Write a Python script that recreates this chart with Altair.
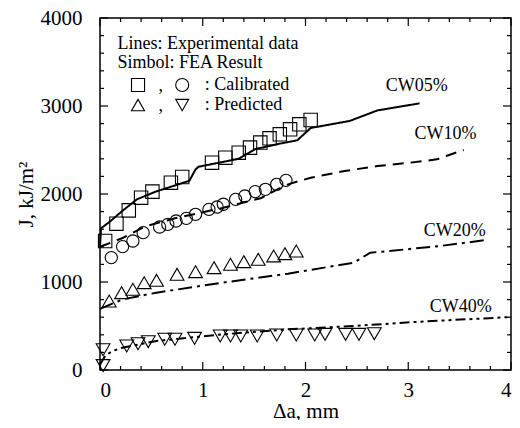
import altair as alt
import pandas as pd

# ---- experimental curves (lines) ----
cw05_x = [0.0, 0.01, 0.10, 0.22, 0.36, 0.55, 0.87, 0.93, 0.96, 1.35, 1.51, 1.74, 1.92, 2.05, 2.43, 2.70, 3.11]
cw05_j = [1400, 1610, 1690, 1810, 1940, 2030, 2150, 2280, 2310, 2400, 2510, 2570, 2610, 2750, 2830, 2950, 3030]

cw10_x = [0.0, 0.22, 0.45, 0.74, 1.19, 1.57, 1.74, 1.83, 2.05, 2.38, 2.70, 3.02, 3.28, 3.37, 3.54]
cw10_j = [1400, 1500, 1636, 1727, 1841, 1955, 2060, 2110, 2185, 2261, 2318, 2356, 2394, 2432, 2500]

cw20_x = [0.0, 0.22, 0.55, 1.19, 1.83, 2.47, 2.63, 2.98, 3.31, 3.74]
cw20_j = [695, 803, 879, 992, 1095, 1220, 1333, 1371, 1409, 1474]

cw40_x = [0.0, 0.05, 0.12, 0.22, 0.55, 1.19, 1.83, 2.47, 3.11, 4.0]
cw40_j = [60, 160, 215, 254, 330, 405, 462, 500, 549, 602]

# ---- FEA results (symbols) ----
sq_x = [0.05, 0.16, 0.28, 0.40, 0.51, 0.69, 0.80, 1.09, 1.22, 1.35, 1.46, 1.56, 1.65, 1.75, 1.85, 1.94, 2.05]
sq_j = [1466, 1663, 1814, 1958, 2027, 2129, 2193, 2356, 2413, 2470, 2527, 2584, 2633, 2678, 2735, 2792, 2841]

ci_x = [0.11, 0.22, 0.32, 0.42, 0.58, 0.66, 0.74, 0.84, 0.93, 1.06, 1.14, 1.20, 1.32, 1.41, 1.51, 1.61, 1.72, 1.81]
ci_j = [1277, 1402, 1466, 1561, 1625, 1655, 1693, 1723, 1769, 1825, 1852, 1883, 1939, 1977, 2027, 2053, 2110, 2155]

tu_x = [0.09, 0.21, 0.32, 0.43, 0.55, 0.75, 0.93, 1.11, 1.27, 1.40, 1.54, 1.69, 1.80, 1.91]
tu_j = [784, 879, 917, 992, 1019, 1087, 1117, 1163, 1201, 1231, 1258, 1296, 1322, 1352]

td_x = [0.03, 0.03, 0.26, 0.37, 0.47, 0.63, 0.73, 0.92, 1.17, 1.27, 1.37, 1.53, 1.72, 1.91, 2.09, 2.19, 2.39, 2.52, 2.67]
td_j = [50, 230, 273, 299, 322, 349, 349, 360, 386, 386, 386, 386, 398, 398, 398, 405, 405, 405, 413]

# ---- text annotations ----
lab_text = ["CW05%", "CW10%", "CW20%", "CW40%"]
lab_x = [2.78, 3.06, 3.15, 3.21]
lab_j = [3227, 2682, 1580, 716]

leg_text = ["Lines: Experimental data", "Simbol: FEA Result", ",", ": Calibrated", ",", ": Predicted"]
leg_x = [0.17, 0.17, 0.57, 1.02, 0.57, 1.02]
leg_j = [3705, 3489, 3225, 3239, 2997, 3011]

leg_sym_shape = ["square", "circle", "triangle-up", "triangle-down"]
leg_sym_x = [0.37, 0.80, 0.37, 0.80]
leg_sym_j = [3239, 3239, 3011, 3011]

# ---- axis ticks ----
x_major = [0, 1, 2, 3, 4]
x_minor = [0.2, 0.4, 0.6, 0.8, 1.2, 1.4, 1.6, 1.8, 2.2, 2.4, 2.6, 2.8, 3.2, 3.4, 3.6, 3.8]
y_major = [0, 1000, 2000, 3000, 4000]
y_minor = [200, 400, 600, 800, 1200, 1400, 1600, 1800, 2200, 2400, 2600, 2800, 3200, 3400, 3600, 3800]
X_MIN, X_MAX = 0, 4
Y_MIN, Y_MAX = 0, 4000

FONT = "Liberation Serif"
W, H = 411, 352
MAJOR_PX, MINOR_PX = 8, 4

xs = alt.Scale(domain=[X_MIN, X_MAX], nice=False, zero=False)
ys = alt.Scale(domain=[Y_MIN, Y_MAX], nice=False, zero=False)

def df(x, j):
    return pd.DataFrame({"x": x, "j": j})

label_x_axis = alt.Axis(orient="bottom", values=x_major, ticks=False, tickSize=0, domain=False, grid=False,
                        labelPadding=9, labelOverlap=False, title="Δa, mm", titlePadding=0, format="d")
label_y_axis = alt.Axis(orient="left", values=y_major, ticks=False, tickSize=0, domain=False, grid=False,
                        labelPadding=18, labelOverlap=False, title="J, kJ/m²", titlePadding=4, format="d")

def enc_x(axis=None):
    return alt.X("x:Q", scale=xs, axis=axis)

def enc_y(axis=None):
    return alt.Y("j:Q", scale=ys, axis=axis)

def line_layer(x, j, dash, xaxis=None, yaxis=None):
    return alt.Chart(df(x, j)).mark_line(color="black", strokeWidth=2, strokeDash=dash).encode(
        x=enc_x(xaxis), y=enc_y(yaxis), order="x:Q")

l05 = line_layer(cw05_x, cw05_j, [1, 0], label_x_axis, label_y_axis)
l10 = line_layer(cw10_x, cw10_j, [11, 7])
l20 = line_layer(cw20_x, cw20_j, [14, 5, 3, 5])
l40 = line_layer(cw40_x, cw40_j, [10, 4, 3, 4, 3, 4])

def pts(x, j, shape, size):
    return alt.Chart(df(x, j)).mark_point(shape=shape, size=size, filled=False, color="black",
                                          strokeWidth=1.1, opacity=1).encode(x=enc_x(), y=enc_y())

p_sq = pts(sq_x, sq_j, "square", 180)
p_ci = pts(ci_x, ci_j, "circle", 150)
p_tu = pts(tu_x, tu_j, "triangle-up", 190)
p_td = pts(td_x, td_j, "triangle-down", 190)

# inward tick marks on all four sides, as short rule segments from the frame inward
def x_tick_rows(values, px):
    dj = px * (Y_MAX - Y_MIN) / H
    rows = []
    for v in values:
        rows.append({"x": v, "j": Y_MIN, "j2": Y_MIN + dj})
        rows.append({"x": v, "j": Y_MAX, "j2": Y_MAX - dj})
    return rows

def y_tick_rows(values, px):
    dx = px * (X_MAX - X_MIN) / W
    rows = []
    for v in values:
        rows.append({"j": v, "x": X_MIN, "x2": X_MIN + dx})
        rows.append({"j": v, "x": X_MAX, "x2": X_MAX - dx})
    return rows

xt = pd.DataFrame(x_tick_rows(x_major, MAJOR_PX) + x_tick_rows(x_minor, MINOR_PX))
yt = pd.DataFrame(y_tick_rows(y_major, MAJOR_PX) + y_tick_rows(y_minor, MINOR_PX))

x_ticks = alt.Chart(xt).mark_rule(color="black", strokeWidth=1.2).encode(
    x=enc_x(), y=enc_y(), y2="j2:Q")
y_ticks = alt.Chart(yt).mark_rule(color="black", strokeWidth=1.2).encode(
    y=enc_y(), x=enc_x(), x2="x2:Q")

labels = alt.Chart(pd.DataFrame({"t": lab_text, "x": lab_x, "j": lab_j})).mark_text(
    align="left", baseline="middle", font=FONT, fontSize=18, color="black").encode(
    x=enc_x(), y=enc_y(), text="t:N")

legend = alt.Chart(pd.DataFrame({"t": leg_text, "x": leg_x, "j": leg_j})).mark_text(
    align="left", baseline="middle", font=FONT, fontSize=18, color="black").encode(
    x=enc_x(), y=enc_y(), text="t:N")

legend_sym = alt.Chart(pd.DataFrame({"s": leg_sym_shape, "x": leg_sym_x, "j": leg_sym_j})).mark_point(
    filled=False, color="black", strokeWidth=1.1, opacity=1, size=170).encode(
    x=enc_x(), y=enc_y(),
    shape=alt.Shape("s:N", scale=alt.Scale(domain=leg_sym_shape, range=leg_sym_shape), legend=None))

chart = alt.layer(l05, l10, l20, l40, p_sq, p_ci, p_tu, p_td, x_ticks, y_ticks, labels, legend, legend_sym).resolve_axis(
    x="independent", y="independent"
).properties(
    width=W, height=H,
    autosize=alt.AutoSizeParams(type="none"),
    padding={"left": 92, "top": 10, "right": 1, "bottom": 50},
    background="white",
).configure_view(stroke="black", strokeWidth=1.5).configure_axis(
    labelFont=FONT, labelFontSize=21, labelColor="black",
    titleFont=FONT, titleFontSize=21, titleColor="black", titleFontWeight="normal",
)

chart.save("out.html", embed_options={"renderer": "svg", "actions": False})
